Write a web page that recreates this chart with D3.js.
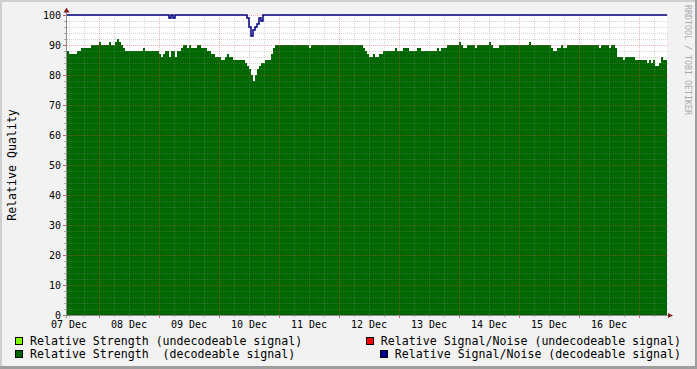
<!doctype html>
<html>
<head>
<style>
  body { margin: 0; background: #f2f2f2; }
  svg { display: block; font-family: "DejaVu Sans Mono", monospace; }
</style>
<script src="https://d3js.org/d3.v7.min.js"></script>
</head>
<body>
<svg width="697" height="369"></svg>
<script>
// one sample every 48 minutes, first sample starts 6 Dec 23:12
var startTime = Date.UTC(2010, 11, 6, 23, 12);
var stepMs = 48 * 60 * 1000;

// Relative Strength (decodeable signal)
var strength = [
  88,87,87,87,87,88,88,89,89,89,89,89,90,90,90,90,91,90,90,90,
  90,91,90,90,91,92,91,90,89,88,88,88,88,88,88,88,88,88,89,88,
  88,88,88,88,88,88,87,86,87,88,88,86,88,88,86,88,88,89,90,90,
  89,90,89,89,89,90,90,89,89,89,88,88,87,87,86,86,86,85,85,86,
  87,86,86,85,85,85,85,85,85,84,83,82,80,78,80,82,83,84,84,85,
  85,85,87,89,90,90,90,90,90,90,90,90,90,90,90,90,90,90,90,90,
  90,89,90,90,90,90,90,90,90,90,90,90,90,90,90,90,90,90,90,90,
  90,90,90,90,90,90,90,90,89,88,87,86,86,87,86,86,87,87,88,88,
  88,88,88,88,89,88,88,88,89,89,89,88,88,88,88,89,89,88,88,88,
  88,88,88,88,88,89,88,89,89,89,90,90,90,90,90,90,91,90,89,89,
  90,90,90,90,89,90,90,90,90,90,90,91,90,89,89,89,90,90,90,90,
  90,90,90,90,90,90,90,90,90,90,90,91,90,90,90,90,90,90,90,90,
  90,90,89,88,88,89,89,90,89,89,90,90,90,90,90,90,90,90,90,90,
  90,90,90,90,90,90,89,90,90,90,90,89,90,90,89,86,86,86,85,86,
  86,86,86,86,85,85,85,85,85,85,84,85,84,85,83,83,84,86,85,85
];

// Relative Signal/Noise (decodeable signal)
var signalNoise = [
  100,100,100,100,100,100,100,100,100,100,100,100,100,100,100,100,100,100,100,100,
  100,100,100,100,100,100,100,100,100,100,100,100,100,100,100,100,100,100,100,100,
  100,100,100,100,100,100,100,100,100,100,100, 99,100, 99,100,100,100,100,100,100,
  100,100,100,100,100,100,100,100,100,100,100,100,100,100,100,100,100,100,100,100,
  100,100,100,100,100,100,100,100,100,100, 99, 96, 93, 95, 96, 97, 99, 98,100,100,
  100,100,100,100,100,100,100,100,100,100,100,100,100,100,100,100,100,100,100,100,
  100,100,100,100,100,100,100,100,100,100,100,100,100,100,100,100,100,100,100,100,
  100,100,100,100,100,100,100,100,100,100,100,100,100,100,100,100,100,100,100,100,
  100,100,100,100,100,100,100,100,100,100,100,100,100,100,100,100,100,100,100,100,
  100,100,100,100,100,100,100,100,100,100,100,100,100,100,100,100,100,100,100,100,
  100,100,100,100,100,100,100,100,100,100,100,100,100,100,100,100,100,100,100,100,
  100,100,100,100,100,100,100,100,100,100,100,100,100,100,100,100,100,100,100,100,
  100,100,100,100,100,100,100,100,100,100,100,100,100,100,100,100,100,100,100,100,
  100,100,100,100,100,100,100,100,100,100,100,100,100,100,100,100,100,100,100,100,
  100,100,100,100,100,100,100,100,100,100,100,100,100,100,100,100,100,100,100,100
];

var yTicks = [0, 10, 20, 30, 40, 50, 60, 70, 80, 90, 100];

var legendLeft = [
  { label: "Relative Strength (undecodeable signal)", color: "#80ff00" },
  { label: "Relative Strength  (decodeable signal)", color: "#006600" }
];
var legendRight = [
  { label: "Relative Signal/Noise (undecodeable signal)", color: "#ff0000" },
  { label: "Relative Signal/Noise (decodeable signal)", color: "#000090" }
];

var svg = d3.select("svg"),
    W = 697, H = 369,
    pLeft = 67, pRight = 667, pTop = 15, pBottom = 315;

var endTime = startTime + strength.length * stepMs;
var x = d3.scaleUtc().domain([new Date(startTime), new Date(endTime)]).range([pLeft, pRight]);
var y = d3.scaleLinear().domain([0, 100]).range([pBottom, pTop]);

function toSeries(arr) {
  var s = arr.map(function(v, i) { return { t: new Date(startTime + i * stepMs), v: v }; });
  s.push({ t: new Date(endTime), v: arr[arr.length - 1] });
  return s;
}

// frame
svg.append("rect").attr("width", W).attr("height", H).attr("fill", "#f2f2f2");
svg.append("rect").attr("x", 0).attr("y", 0).attr("width", W).attr("height", 2).attr("fill", "#cfcfcf");
svg.append("rect").attr("x", 0).attr("y", 0).attr("width", 2).attr("height", H).attr("fill", "#cfcfcf");
svg.append("rect").attr("x", W - 2).attr("y", 0).attr("width", 2).attr("height", H).attr("fill", "#9e9e9e");
svg.append("rect").attr("x", 0).attr("y", H - 3).attr("width", W).attr("height", 3).attr("fill", "#9e9e9e");

// canvas
svg.append("rect").attr("x", pLeft).attr("y", pTop).attr("width", pRight - pLeft).attr("height", pBottom - pTop).attr("fill", "#fff");

// green area
var area = d3.area()
    .x(function(d) { return x(d.t); })
    .y0(y(0))
    .y1(function(d) { return y(d.v); })
    .curve(d3.curveStepAfter);

svg.append("path")
   .datum(toSeries(strength))
   .attr("d", area)
   .attr("fill", "#006600")
   .attr("shape-rendering", "crispEdges");

// grid
var minorCol = "rgba(140,140,140,0.35)",
    majorCol = "rgba(230,80,80,0.45)";

var yMinor = d3.range(0, 101, 2).filter(function(v) { return v % 10 != 0; });
var grid = svg.append("g").attr("shape-rendering", "crispEdges");

yMinor.forEach(function(v) {
  grid.append("line").attr("x1", pLeft).attr("x2", pRight + 2)
      .attr("y1", y(v) + 0.5).attr("y2", y(v) + 0.5)
      .attr("stroke", minorCol).attr("stroke-dasharray", "1,1");
  grid.append("line").attr("x1", pLeft - 3).attr("x2", pLeft)
      .attr("y1", y(v) + 0.5).attr("y2", y(v) + 0.5).attr("stroke", "#aaa");
});
yTicks.forEach(function(v) {
  grid.append("line").attr("x1", pLeft).attr("x2", pRight + 2)
      .attr("y1", y(v) + 0.5).attr("y2", y(v) + 0.5)
      .attr("stroke", majorCol).attr("stroke-dasharray", "1,1");
  grid.append("line").attr("x1", pLeft - 4).attr("x2", pLeft)
      .attr("y1", y(v) + 0.5).attr("y2", y(v) + 0.5).attr("stroke", "#d06060");
});

var sixHours = d3.utcHour.every(6).range(new Date(startTime), new Date(endTime));
sixHours.forEach(function(t) {
  var major = t.getUTCHours() == 12;
  var px = Math.round(x(t)) + 0.5;
  grid.append("line").attr("x1", px).attr("x2", px).attr("y1", pTop).attr("y2", pBottom)
      .attr("stroke", major ? majorCol : minorCol).attr("stroke-dasharray", "1,1");
  grid.append("line").attr("x1", px).attr("x2", px).attr("y1", pBottom).attr("y2", pBottom + (major ? 3 : 2))
      .attr("stroke", major ? "#d06060" : "#aaa");
});

// blue S/N line
var line = d3.line()
    .x(function(d) { return x(d.t); })
    .y(function(d) { return y(d.v); })
    .curve(d3.curveStepAfter);

svg.append("path")
   .datum(toSeries(signalNoise))
   .attr("d", line)
   .attr("fill", "none")
   .attr("stroke", "#000080")
   .attr("stroke-width", 1.5);

// axes
svg.append("line").attr("x1", pLeft - 0.5).attr("x2", pLeft - 0.5).attr("y1", pBottom + 3).attr("y2", 11)
   .attr("stroke", "#8a8a8a");
svg.append("line").attr("x1", pLeft - 3).attr("x2", 669).attr("y1", pBottom + 0.5).attr("y2", pBottom + 0.5)
   .attr("stroke", "#8a8a8a");
svg.append("path").attr("d", "M63.5,12.5L66.5,7.5L69.5,12.5Z").attr("fill", "#801f1f");
svg.append("path").attr("d", "M668,313L673,315.5L668,318Z").attr("fill", "#801f1f");

// y labels
svg.append("g").selectAll("text").data(yTicks).enter().append("text")
   .attr("x", 61).attr("y", function(d) { return y(d) + 4; })
   .attr("text-anchor", "end").attr("font-size", "10px").attr("fill", "#000")
   .text(function(d) { return d; });

// x labels
var days = d3.utcDay.range(new Date(startTime), new Date(endTime));
svg.append("g").selectAll("text").data(days).enter().append("text")
   .attr("x", function(d) { return x(d); }).attr("y", 327.5)
   .attr("text-anchor", "middle").attr("font-size", "10px").attr("fill", "#000")
   .text(function(d) { return d3.utcFormat("%d %b")(d); });

// y title
svg.append("text")
   .attr("transform", "translate(16,165) rotate(-90)")
   .attr("text-anchor", "middle").attr("font-size", "11.6px").attr("fill", "#000")
   .text("Relative Quality");

// watermark
svg.append("text")
   .attr("transform", "translate(685,5) rotate(90)")
   .attr("font-size", "8.3px").attr("fill", "#aaa")
   .text("RRDTOOL / TOBI OETIKER");

// legend
var rowY = [344.5, 357.5];
legendLeft.forEach(function(d, i) {
  svg.append("rect").attr("x", 15.5).attr("y", rowY[i] - 7).attr("width", 7).attr("height", 7)
     .attr("fill", d.color).attr("stroke", "#000");
  svg.append("text").attr("x", 30).attr("y", rowY[i]).attr("font-size", "11.6px")
     .style("white-space", "pre").text(d.label);
});
legendRight.forEach(function(d, i) {
  var t = svg.append("text").attr("x", 681).attr("y", rowY[i]).attr("font-size", "11.6px")
     .attr("text-anchor", "end").style("white-space", "pre").text(d.label);
  var len = t.node().getComputedTextLength();
  svg.append("rect").attr("x", Math.round(681 - len - 15) + 0.5).attr("y", rowY[i] - 7).attr("width", 7).attr("height", 7)
     .attr("fill", d.color).attr("stroke", "#000");
});
</script>
</body>
</html>
